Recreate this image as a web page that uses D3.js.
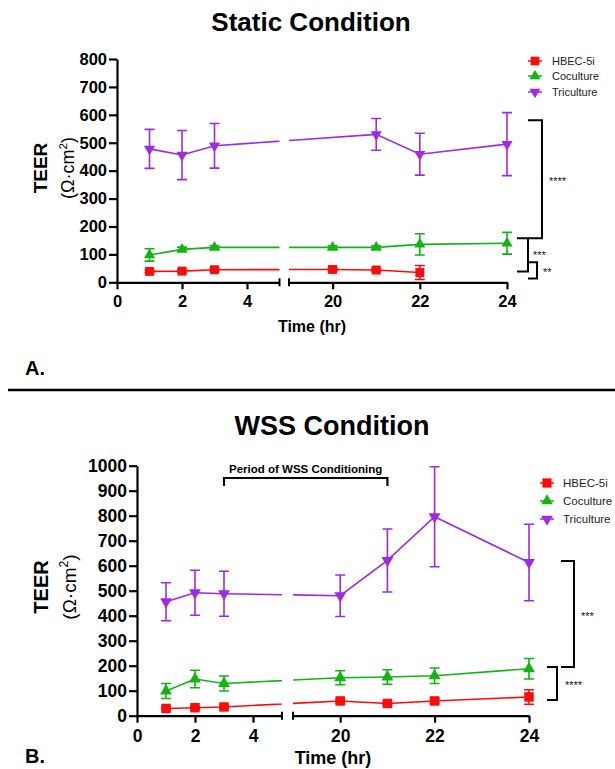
<!DOCTYPE html>
<html><head><meta charset="utf-8">
<script src="https://cdn.jsdelivr.net/npm/d3@7"></script>
<style>
body{margin:0;background:#fff}
svg{display:block;font-family:"Liberation Sans",Arial,Helvetica,sans-serif}
</style>
</head><body>
<svg id="c" width="615" height="769"></svg>
<script>
// ---------- DATA ----------
const seriesNames = ["HBEC-5i", "Coculture", "Triculture"];

// Static condition
const staticHBECTime  = [1, 2, 3, 20, 21, 22];
const staticHBECMean  = [39, 40, 45, 46, 44, 35];
const staticHBECErr   = [5, 5, 5, 5, 5, 25];
const staticCocTime   = [1, 2, 3, 20, 21, 22, 24];
const staticCocMean   = [98, 118, 125, 125, 125, 136, 140];
const staticCocErr    = [22, 8, 6, 6, 6, 38, 39];
const staticTriTime   = [1, 2, 3, 21, 22, 24];
const staticTriMean   = [478, 456, 489, 530, 459, 495];
const staticTriErr    = [70, 88, 80, 57, 75, 113];

// WSS condition
const wssHBECTime = [1, 2, 3, 20, 21, 22, 24];
const wssHBECMean = [29, 32, 35, 59, 49, 59, 75];
const wssHBECErr  = [5, 5, 5, 8, 6, 10, 29];
const wssCocTime  = [1, 2, 3, 20, 21, 22, 24];
const wssCocMean  = [99, 147, 129, 152, 155, 160, 188];
const wssCocErr   = [30, 35, 30, 28, 29, 31, 41];
const wssTriTime  = [1, 2, 3, 20, 21, 22, 24];
const wssTriMean  = [456, 492, 488, 480, 621, 796, 613];
const wssTriErr   = [76, 90, 90, 83, 126, 200, 153];

const staticYTicks = [0, 100, 200, 300, 400, 500, 600, 700, 800];
const wssYTicks    = [0, 100, 200, 300, 400, 500, 600, 700, 800, 900, 1000];
const xTicksLeft   = [0, 2, 4];
const xTicksRight  = [20, 22, 24];

// significance brackets: [topValue, bottomValue, label]
const staticSig = [[581, 158, "****"], [158, 39, "***"], [72, 14, "**"]];
const wssSig    = [[619, 195, "***"], [195, 63, "****"]];
// WSS conditioning period [start hr, end hr]
const wssPeriod = [3, 21];

// ---------- DRAWING ----------
const colors = ["#ff0a0a", "#13b313", "#9d2be3"];
const svg = d3.select("#c");
const fmt = d3.format("d");

const symSquare = d3.symbol().type(d3.symbolSquare);
const symTri = d3.symbol().type(d3.symbolTriangle);

function markerPath(i, size) {
  if (i === 0) return symSquare.size(size)();
  return symTri.size(size * 0.68)();
}

let clipId = 0;
function drawPanel(cfg) {
  const g = svg.append("g");
  const y = d3.scaleLinear().domain([0, cfg.yMax]).range([cfg.y0, cfg.yTop]);
  const xl = d3.scaleLinear().domain([0, 5]).range(cfg.leftRange);
  const xr = d3.scaleLinear().domain([19, 24]).range(cfg.rightRange);
  const px = t => (t <= 5 ? xl(t) : xr(t));

  // y axis
  const ya = g.append("g").attr("transform", `translate(${cfg.leftRange[0]},0)`)
    .call(d3.axisLeft(y).tickValues(cfg.yTicks).tickFormat(fmt).tickSize(8).tickPadding(2).tickSizeOuter(0));
  // x axes
  const xa1 = g.append("g").attr("transform", `translate(0,${cfg.y0})`)
    .call(d3.axisBottom(xl).tickValues(xTicksLeft).tickFormat(fmt).tickSize(7).tickPadding(cfg.xPad).tickSizeOuter(0));
  const xa2 = g.append("g").attr("transform", `translate(0,${cfg.y0})`)
    .call(d3.axisBottom(xr).tickValues(xTicksRight).tickFormat(fmt).tickSize(7).tickPadding(cfg.xPad).tickSizeOuter(0));
  [ya, xa1, xa2].forEach(a => {
    a.selectAll("path,line").attr("stroke", "#000").attr("stroke-width", 2.2);
    a.selectAll("text").attr("fill", "#000").attr("font-weight", "bold")
      .attr("font-size", cfg.tickFont).attr("font-family", "Liberation Sans, Arial, sans-serif");
  });
  // break bars
  [cfg.leftRange[1], cfg.rightRange[0]].forEach(bx => {
    g.append("line").attr("x1", bx).attr("x2", bx)
      .attr("y1", cfg.y0 - 4).attr("y2", cfg.y0 + 4)
      .attr("stroke", "#000").attr("stroke-width", 2);
  });

  // clips for broken lines
  const cid1 = "clipL" + (clipId++), cid2 = "clipR" + (clipId++);
  const defs = svg.append("defs");
  defs.append("clipPath").attr("id", cid1).append("rect")
    .attr("x", 0).attr("y", 0).attr("width", cfg.leftRange[1]).attr("height", 769);
  defs.append("clipPath").attr("id", cid2).append("rect")
    .attr("x", cfg.rightRange[0]).attr("y", 0).attr("width", 615).attr("height", 769);

  const line = d3.line().x(d => px(d.t)).y(d => y(d.m));

  cfg.series.forEach((s, i) => {
    const pts = s.t.map((t, k) => ({ t, m: s.m[k], e: s.e[k] }));
    const col = colors[i];
    [cid1, cid2].forEach(cid => {
      g.append("path").attr("d", line(pts)).attr("fill", "none")
        .attr("stroke", col).attr("stroke-width", 1.6).attr("clip-path", `url(#${cid})`);
    });
    // error bars
    pts.forEach(p => {
      const x = px(p.t), yt = y(p.m + p.e), yb = y(p.m - p.e);
      g.append("path").attr("d", `M${x - 5},${yt}H${x + 5}M${x},${yt}V${yb}M${x - 5},${yb}H${x + 5}`)
        .attr("fill", "none").attr("stroke", col).attr("stroke-width", 1.6);
    });
    // markers
    pts.forEach(p => {
      g.append("path").attr("d", markerPath(i, cfg.markerSize))
        .attr("transform", `translate(${px(p.t)},${y(p.m)})${i === 2 ? " rotate(180)" : ""}`)
        .attr("fill", col);
    });
  });

  // legend
  seriesNames.forEach((n, i) => {
    const ly = cfg.legend.y[i];
    g.append("line").attr("x1", cfg.legend.x - 7).attr("x2", cfg.legend.x + 7)
      .attr("y1", ly).attr("y2", ly).attr("stroke", colors[i]).attr("stroke-width", 1.5);
    g.append("path").attr("d", markerPath(i, cfg.markerSize * 0.95))
      .attr("transform", `translate(${cfg.legend.x},${ly})${i === 2 ? " rotate(180)" : ""}`)
      .attr("fill", colors[i]);
    g.append("text").attr("x", cfg.legend.tx).attr("y", ly).attr("dy", "0.35em")
      .attr("font-size", cfg.legend.font).attr("fill", "#222").text(n);
  });

  // y axis title
  g.append("text").attr("transform", `translate(${cfg.yTitle.x1},${cfg.yTitle.yc}) rotate(-90)`)
    .attr("text-anchor", "middle").attr("font-weight", "bold").attr("font-size", cfg.yTitle.f1).text("TEER");
  const yt2 = g.append("text").attr("transform", `translate(${cfg.yTitle.x2},${cfg.yTitle.yc}) rotate(-90)`)
    .attr("text-anchor", "middle").attr("font-size", cfg.yTitle.f2);
  yt2.append("tspan").text("(Ω·cm");
  yt2.append("tspan").attr("font-size", cfg.yTitle.f2 * 0.65).attr("dy", -cfg.yTitle.f2 * 0.4).text("2");
  yt2.append("tspan").attr("dy", cfg.yTitle.f2 * 0.4).text(")");

  // x axis title
  g.append("text").attr("x", (cfg.leftRange[0] + cfg.rightRange[1]) / 2).attr("y", cfg.xTitle.y)
    .attr("text-anchor", "middle").attr("font-weight", "bold").attr("font-size", cfg.xTitle.f).text("Time (hr)");

  // significance brackets
  cfg.sig.forEach((b, k) => {
    const L = cfg.sigLayout[k];
    const y1 = y(b[0]), y2 = y(b[1]);
    g.append("path").attr("d", `M${L.arm},${y1}H${L.vx}V${y2}H${L.arm}`)
      .attr("fill", "none").attr("stroke", "#000").attr("stroke-width", 2);
    g.append("text").attr("x", L.tx).attr("y", (y1 + y2) / 2 + L.dy)
      .attr("font-size", 11).attr("fill", "#111").text(b[2]);
  });
  return { g, y, px };
}

// Titles
svg.append("text").attr("x", 311).attr("y", 31).attr("text-anchor", "middle")
  .attr("font-weight", "bold").attr("font-size", 26).text("Static Condition");
svg.append("text").attr("x", 332).attr("y", 435).attr("text-anchor", "middle")
  .attr("font-weight", "bold").attr("font-size", 27).text("WSS Condition");
svg.append("text").attr("x", 25).attr("y", 375).attr("font-weight", "bold").attr("font-size", 20).text("A.");
svg.append("text").attr("x", 25).attr("y", 763).attr("font-weight", "bold").attr("font-size", 20).text("B.");
svg.append("line").attr("x1", 8).attr("x2", 615).attr("y1", 390).attr("y2", 390)
  .attr("stroke", "#000").attr("stroke-width", 2.5);

drawPanel({
  yMax: 800, y0: 282.3, yTop: 59, yTicks: staticYTicks,
  leftRange: [117, 279.5], rightRange: [289, 507],
  tickFont: 16.5, xPad: 6, markerSize: 80,
  series: [
    { t: staticHBECTime, m: staticHBECMean, e: staticHBECErr },
    { t: staticCocTime, m: staticCocMean, e: staticCocErr },
    { t: staticTriTime, m: staticTriMean, e: staticTriErr }
  ],
  legend: { x: 535, tx: 552, y: [61, 76, 92], font: 11 },
  yTitle: { x1: 47, x2: 74, yc: 168, f1: 19, f2: 18 },
  xTitle: { y: 332, f: 16 },
  sig: staticSig,
  sigLayout: [{ arm: 528, vx: 542, tx: 549, dy: 6 }, { arm: 517, vx: 528, tx: 533, dy: 4 }, { arm: 528, vx: 537, tx: 543, dy: 6 }]
});

const wss = drawPanel({
  yMax: 1000, y0: 715.7, yTop: 465.7, yTicks: wssYTicks,
  leftRange: [137, 282], rightRange: [293, 529],
  tickFont: 17.5, xPad: 7, markerSize: 90,
  series: [
    { t: wssHBECTime, m: wssHBECMean, e: wssHBECErr },
    { t: wssCocTime, m: wssCocMean, e: wssCocErr },
    { t: wssTriTime, m: wssTriMean, e: wssTriErr }
  ],
  legend: { x: 547, tx: 563, y: [483, 501, 519], font: 11.5 },
  yTitle: { x1: 48, x2: 76, yc: 587, f1: 20, f2: 19 },
  xTitle: { y: 764, f: 18 },
  sig: wssSig,
  sigLayout: [{ arm: 561, vx: 574, tx: 581, dy: 6 }, { arm: 547, vx: 557, tx: 565, dy: 6 }]
});

// WSS conditioning period bracket
{
  const x1 = wss.px(wssPeriod[0]), x2 = wss.px(wssPeriod[1]);
  const yb = 478;
  wss.g.append("path").attr("d", `M${x1},${yb + 8}V${yb}H${x2}V${yb + 8}`)
    .attr("fill", "none").attr("stroke", "#000").attr("stroke-width", 2.2);
  wss.g.append("text").attr("x", (x1 + x2) / 2).attr("y", yb - 5).attr("text-anchor", "middle")
    .attr("font-weight", "bold").attr("font-size", 11.5).text("Period of WSS Conditioning");
}
</script>
</body></html>
